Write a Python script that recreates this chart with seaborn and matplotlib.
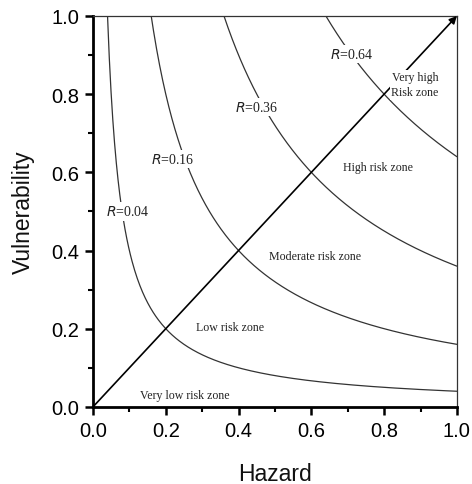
import numpy as np
import pandas as pd
import matplotlib

matplotlib.use("Agg")

import matplotlib.pyplot as plt
import seaborn as sns

# iso-risk levels R = hazard x vulnerability
risk_levels = [0.04, 0.16, 0.36, 0.64]
risk_labels = ["0.04", "0.16", "0.36", "0.64"]
zone_names = [
    "Very low risk zone",
    "Low risk zone",
    "Moderate risk zone",
    "High risk zone",
    "Very high\nRisk zone",
]
diag_hazard = [0.0, 1.0]
diag_vuln = [0.0, 1.0]
ticks = [0.0, 0.2, 0.4, 0.6, 0.8, 1.0]

rows = []
for r in risk_levels:
    h = np.linspace(r, 1.0, 400)
    for hv in h:
        rows.append({"R": r, "Hazard": hv, "Vulnerability": r / hv})
curves = pd.DataFrame(rows)

sns.set_theme(style="ticks")
plt.rcParams["font.family"] = ["Liberation Sans", "DejaVu Sans"]

fig = plt.figure(figsize=(4.72, 4.85), dpi=100)
ax = fig.add_axes([0.197, 0.159, 0.771, 0.806])

sns.lineplot(
    data=curves,
    x="Hazard",
    y="Vulnerability",
    units="R",
    estimator=None,
    color="#333333",
    linewidth=0.9,
    sort=False,
    ax=ax,
)

ax.annotate(
    "",
    xy=(diag_hazard[1], diag_vuln[1]),
    xytext=(diag_hazard[0], diag_vuln[0]),
    arrowprops=dict(arrowstyle="-|>", color="black", lw=1.2,
                    mutation_scale=11, shrinkA=0, shrinkB=0),
    zorder=3,
)

serif = ["Liberation Serif", "DejaVu Serif"]
box = dict(boxstyle="square,pad=0.15", facecolor="white", edgecolor="none")

label_pos = [(0.096, 0.50), (0.22, 0.634), (0.45, 0.767), (0.712, 0.903)]
for txt, (x, y) in zip(risk_labels, label_pos):
    ax.text(x, y, r"$\it{R}$" + "=" + txt, ha="center", va="center",
            fontsize=10, family=serif, color="#222222", bbox=box, zorder=5)

zone_pos = [(0.253, 0.031), (0.376, 0.205), (0.61, 0.386), (0.783, 0.614), (0.885, 0.824)]
for name, (x, y) in zip(zone_names, zone_pos):
    ax.text(x, y, name, ha="center", va="center", fontsize=8.6,
            family=serif, color="#222222", linespacing=1.3,
            bbox=box if "high" in name else None, zorder=5)

ax.set_xlim(0, 1)
ax.set_ylim(0, 1)
ax.set_xticks(ticks)
ax.set_yticks(ticks)
ax.set_xticklabels([f"{t:.1f}" for t in ticks])
ax.set_yticklabels([f"{t:.1f}" for t in ticks])
ax.xaxis.set_minor_locator(matplotlib.ticker.MultipleLocator(0.1))
ax.yaxis.set_minor_locator(matplotlib.ticker.MultipleLocator(0.1))
ax.tick_params(which="major", direction="out", length=6, width=1.8,
               labelsize=14.5, pad=4, color="black", labelcolor="black")
ax.tick_params(which="minor", direction="out", length=3.5, width=1.5, color="black")
ax.tick_params(top=False, right=False, which="both")

for side in ["left", "bottom"]:
    ax.spines[side].set_linewidth(2.0)
    ax.spines[side].set_color("black")
for side in ["top", "right"]:
    ax.spines[side].set_visible(True)
    ax.spines[side].set_linewidth(0.9)
    ax.spines[side].set_color("#333333")

ax.set_xlabel("Hazard", fontsize=16.5, labelpad=16, color="#111111")
ax.set_ylabel("Vulnerability", fontsize=16.5, labelpad=12, color="#111111")

fig.savefig("out.png", dpi=100, facecolor="white")
